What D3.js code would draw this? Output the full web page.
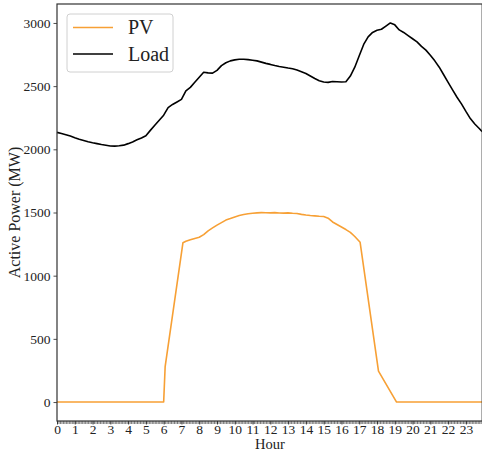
<!DOCTYPE html>
<html>
<head>
<meta charset="utf-8">
<script src="https://cdn.jsdelivr.net/npm/d3@7"></script>
<style>
  html, body { margin: 0; padding: 0; background: #fff; }
  svg { display: block; }
  text { font-family: "Liberation Serif", "DejaVu Serif", serif; fill: #222; }
</style>
</head>
<body>
<svg id="chart" width="482" height="452"></svg>
<script>
// ---- Data ----
// Load: quarter-hourly values (hour of day)
const loadHours = [
  0,0.25,0.5,0.75,1,1.25,1.5,1.75,2,2.25,2.5,2.75,3,3.25,3.5,3.75,
  4,4.25,4.5,4.75,5,5.25,5.5,5.75,6,6.25,6.5,6.75,7,7.25,7.5,7.75,
  8,8.25,8.5,8.75,9,9.25,9.5,9.75,10,10.25,10.5,10.75,11,11.25,11.5,11.75,
  12,12.25,12.5,12.75,13,13.25,13.5,13.75,14,14.25,14.5,14.75,15,15.25,15.5,15.75,
  16,16.25,16.5,16.75,17,17.25,17.5,17.75,18,18.25,18.5,18.75,19,19.25,19.5,19.75,
  20,20.25,20.5,20.75,21,21.25,21.5,21.75,22,22.25,22.5,22.75,23,23.25,23.5,23.75,23.917
];
const loadValues = [
  2134,2125,2116,2105,2092,2080,2070,2060,2052,2045,2038,2032,2026,2025,2028,2033,
  2045,2058,2075,2090,2108,2150,2190,2230,2270,2330,2355,2375,2395,2462,2490,2530,
  2570,2610,2605,2603,2625,2662,2685,2700,2708,2713,2713,2710,2705,2700,2690,2680,
  2672,2663,2655,2650,2643,2637,2627,2614,2600,2580,2560,2543,2533,2530,2537,2535,
  2533,2535,2580,2650,2740,2830,2890,2925,2942,2950,2975,3000,2985,2945,2925,2900,
  2875,2850,2815,2785,2745,2700,2650,2590,2530,2470,2412,2360,2300,2243,2200,2165,2140
];
// PV: hour of day and value
const pvHours = [
  0,6,6.083,7.083,7.25,7.5,7.75,8,8.25,8.5,8.75,9,9.25,9.5,9.75,10,10.25,10.5,10.75,
  11,11.25,11.5,11.75,12,12.25,12.5,12.75,13,13.25,13.5,13.75,14,14.25,14.5,14.75,
  15,15.25,15.5,15.75,16,16.25,16.5,16.75,17.05,18.083,19.1,23.917
];
const pvValues = [
  0,0,280,1260,1272,1284,1295,1304,1325,1355,1378,1400,1420,1440,1452,1465,1476,1484,1490,
  1494,1497,1499,1498,1497,1499,1496,1495,1497,1494,1492,1485,1480,1476,1473,1470,
  1468,1455,1425,1405,1385,1365,1343,1310,1264,245,0,0
];
const seriesNames = ["PV", "Load"];
const seriesColors = ["#f7a035", "#000000"];
const xTickValues = d3.range(0, 24);
const yTickValues = [0, 500, 1000, 1500, 2000, 2500, 3000];
const xLabel = "Hour";
const yLabel = "Active Power (MW)";

// ---- Layout ----
const svg = d3.select("#chart");
const mL = 57, mR = 482.2, mT = 4, mB = 421;
const x = d3.scaleLinear().domain([0, 287 / 12]).range([mL, mR]);
const y = d3.scaleLinear().domain([-150, 3150]).range([mB, mT]);

// Lines
const pvData = pvHours.map((h, i) => [h, pvValues[i]]);
const loadData = loadHours.map((h, i) => [h, loadValues[i]]);
const line = d3.line().x(d => x(d[0])).y(d => y(d[1]));

const plot = svg.append("g");
plot.append("path").datum(pvData)
  .attr("d", line).attr("fill", "none")
  .attr("stroke", seriesColors[0]).attr("stroke-width", 1.6)
  .attr("stroke-linejoin", "round");
plot.append("path").datum(loadData)
  .attr("d", line).attr("fill", "none")
  .attr("stroke", seriesColors[1]).attr("stroke-width", 1.6)
  .attr("stroke-linejoin", "round");

// Y axis
const yAxis = d3.axisLeft(y).tickValues(yTickValues).tickSize(3.5).tickPadding(3).tickFormat(d3.format("d"));
const gy = svg.append("g").attr("transform", `translate(${mL},0)`).call(yAxis);
gy.select(".domain").remove();
gy.selectAll("line").attr("stroke", "#222").attr("stroke-width", 0.8);
gy.selectAll("text").style("font-size", "13.5px").attr("fill", "#222");

// X minor ticks (every 5 minutes)
const minor = d3.range(0, 288).map(i => i / 12);
const xMinor = d3.axisBottom(x).tickValues(minor).tickSize(3).tickFormat("");
const gxm = svg.append("g").attr("transform", `translate(0,${mB})`).call(xMinor);
gxm.select(".domain").remove();
gxm.selectAll("line").attr("stroke", "#222").attr("stroke-width", 0.6);

// X major ticks
const xAxis = d3.axisBottom(x).tickValues(xTickValues).tickSize(3.5).tickPadding(0).tickFormat(d3.format("d"));
const gx = svg.append("g").attr("transform", `translate(0,${mB})`).call(xAxis);
gx.select(".domain").remove();
gx.selectAll("line").attr("stroke", "#222").attr("stroke-width", 0.8);
gx.selectAll("text").style("font-size", "13.5px").attr("fill", "#222").attr("y", 3.2);

// Frame
svg.append("rect")
  .attr("x", mL).attr("y", mT)
  .attr("width", mR - mL).attr("height", mB - mT)
  .attr("fill", "none").attr("stroke", "#333").attr("stroke-width", 1.2);

// Axis labels
svg.append("text")
  .attr("x", 270).attr("y", 449.3)
  .attr("text-anchor", "middle").style("font-size", "14.5px")
  .text(xLabel);
svg.append("text")
  .attr("transform", `translate(20,${(mT + mB) / 2}) rotate(-90)`)
  .attr("text-anchor", "middle").style("font-size", "16px")
  .text(yLabel);

// Legend
const lg = svg.append("g");
lg.append("rect")
  .attr("x", 67).attr("y", 14).attr("width", 106).attr("height", 58)
  .attr("rx", 3).attr("fill", "#fff").attr("fill-opacity", 0.8)
  .attr("stroke", "#d0d0d0").attr("stroke-width", 1);
seriesNames.forEach((name, i) => {
  const cy = 27.5 + i * 26.5;
  lg.append("line")
    .attr("x1", 73).attr("x2", 113).attr("y1", cy).attr("y2", cy)
    .attr("stroke", seriesColors[i]).attr("stroke-width", 1.6);
  lg.append("text")
    .attr("x", 128).attr("y", cy + 6.5)
    .style("font-size", "20px")
    .text(name);
});
</script>
</body>
</html>
